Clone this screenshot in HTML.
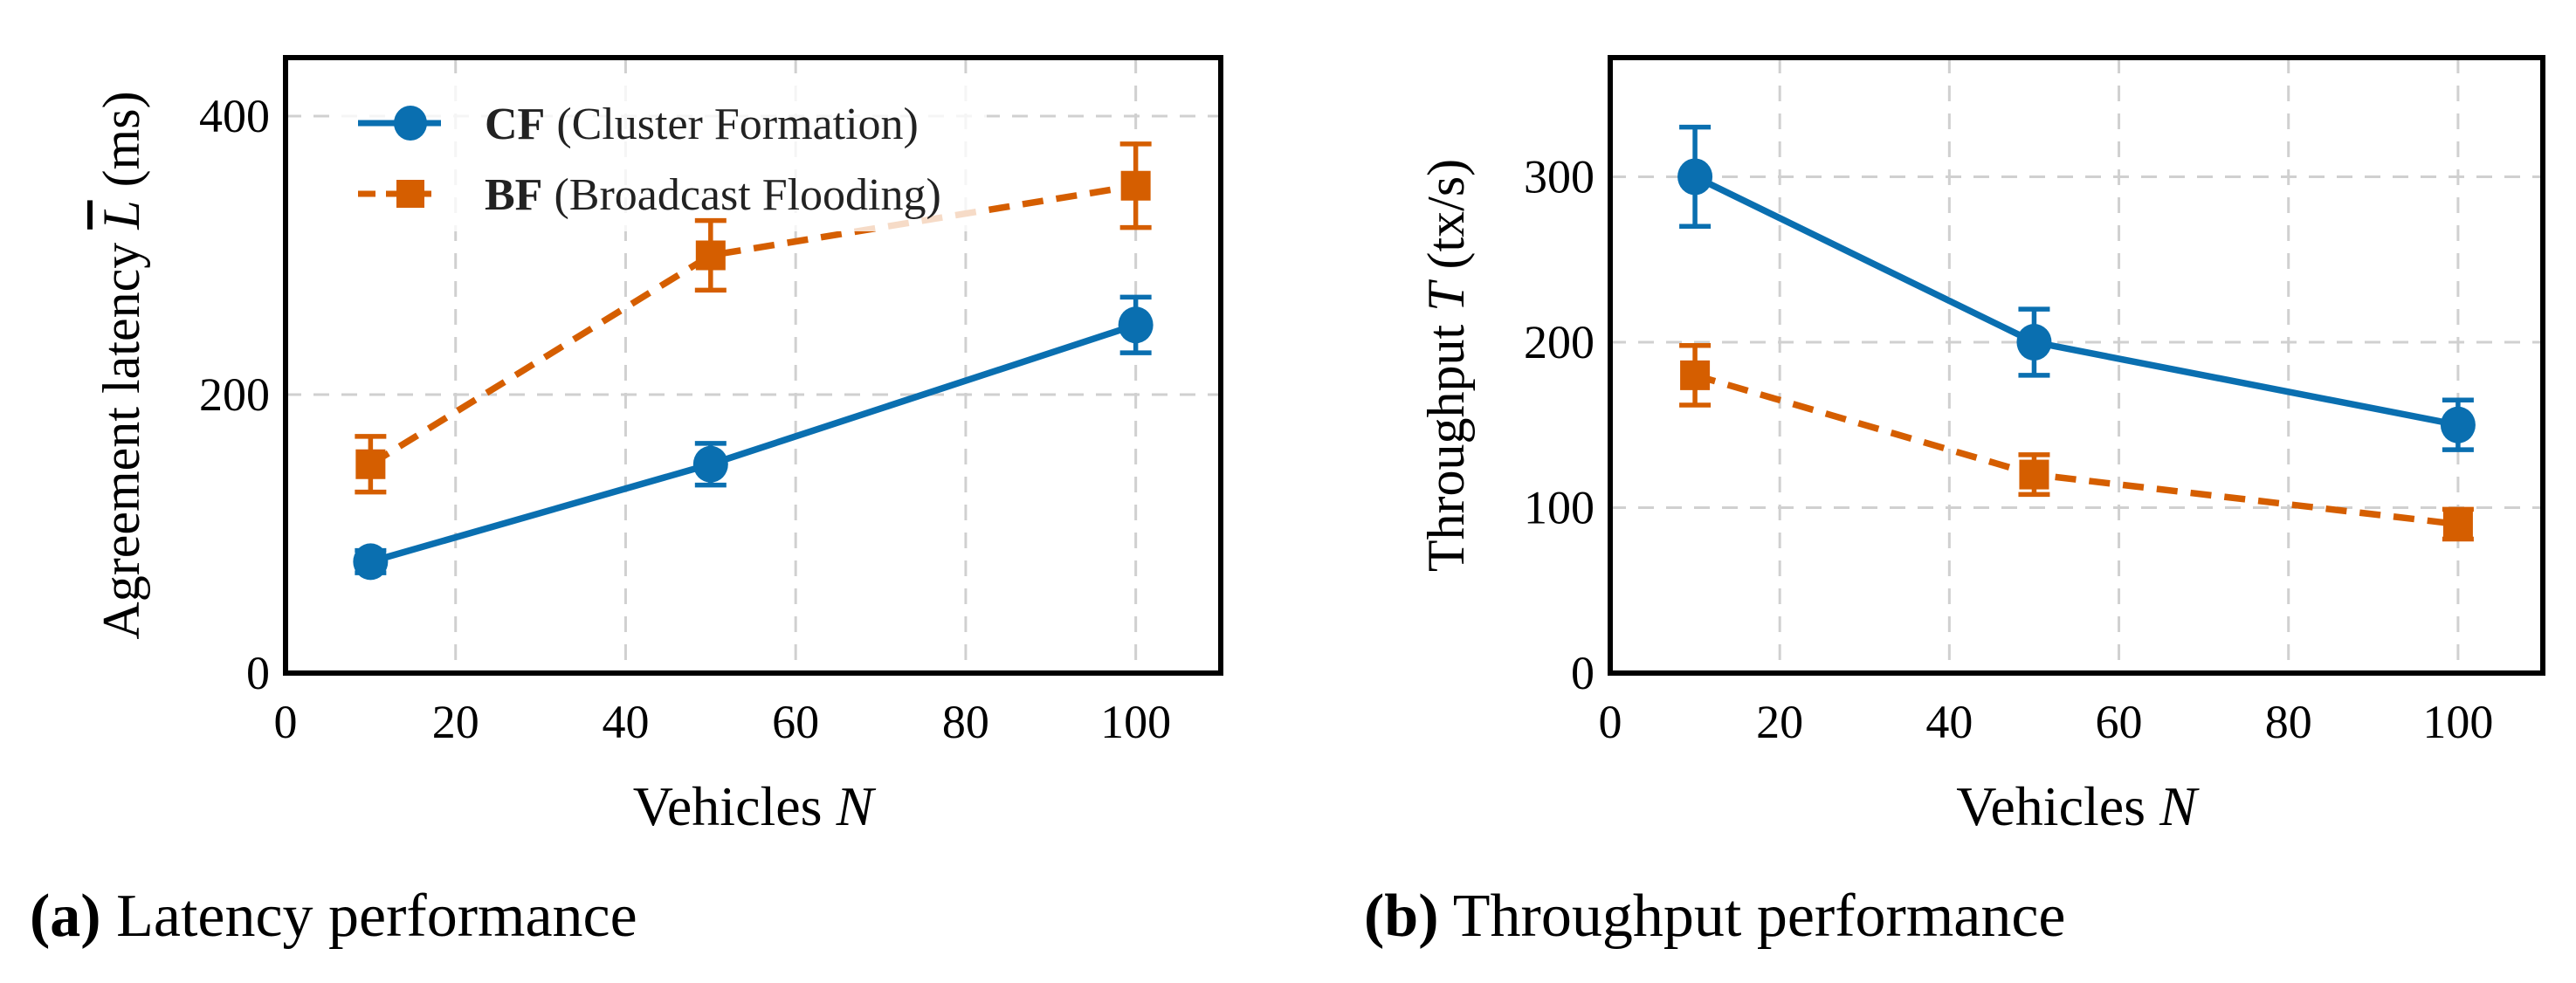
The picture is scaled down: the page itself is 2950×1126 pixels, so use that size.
<!DOCTYPE html>
<html><head><meta charset="utf-8"><style>
html,body{margin:0;padding:0;background:#fff;}
svg{display:block;font-family:"Liberation Serif",serif;}
</style></head><body>
<svg id="fig" width="2950" height="1126" viewBox="0 0 2950 1126" xmlns="http://www.w3.org/2000/svg"></svg>
<script>
const xCats = [10, 50, 100];
const xTicks = [0, 20, 40, 60, 80, 100];
const latCF = [80, 150, 250];
const latCFErr = [8, 15, 20];
const latBF = [150, 300, 350];
const latBFErr = [20, 25, 30];
const latTicks = [0, 200, 400];
const thrCF = [300, 200, 150];
const thrCFErr = [30, 20, 15];
const thrBF = [180, 120, 90];
const thrBFErr = [18, 12, 9];
const thrTicks = [0, 100, 200, 300];

const NS = "http://www.w3.org/2000/svg";
const svg = document.getElementById('fig');
const BLUE = "#0a6fb0", ORANGE = "#d55e00";
function mk(tag, attrs, parent, text){
  const e = document.createElementNS(NS, tag);
  for (const k in attrs) e.setAttribute(k, attrs[k]);
  if (text !== undefined) e.textContent = text;
  (parent || svg).appendChild(e);
  return e;
}
function panel(id, box, ymax, yTicks, cf, cfErr, bf, bfErr, ytitle, legend){
  const g = mk('g', {});
  
  
  const X = v => box.x0 + (v / 110) * (box.x1 - box.x0);
  const Y = v => box.y1 - (v / ymax) * (box.y1 - box.y0);
  xTicks.forEach(t => {
    if (t > 0) {
      const l = mk('line', {x1: X(t), x2: X(t), y1: box.y0, y2: box.y1, stroke: '#d0d0d0', 'stroke-width': 3, 'stroke-dasharray': '18 14'}, g);
      
      
    }
    const tx = mk('text', {x: X(t), y: box.y1 + 74, 'text-anchor': 'middle', 'font-size': 54}, g, String(t));
    
    
  });
  yTicks.forEach(t => {
    if (t > 0) {
      const l = mk('line', {x1: box.x0, x2: box.x1, y1: Y(t), y2: Y(t), stroke: '#d0d0d0', 'stroke-width': 3, 'stroke-dasharray': '18 14'}, g);
      
      
    }
    const tx = mk('text', {x: box.x0 - 18, y: Y(t) + 18, 'text-anchor': 'end', 'font-size': 54}, g, String(t));
    
    
  });
  const bfLine = mk('polyline', {points: xCats.map((c, i) => X(c) + ',' + Y(bf[i])).join(' '), fill: 'none', stroke: ORANGE, 'stroke-width': 7.5, 'stroke-dasharray': '24 15'}, g);
  
  
  const cfLine = mk('polyline', {points: xCats.map((c, i) => X(c) + ',' + Y(cf[i])).join(' '), fill: 'none', stroke: BLUE, 'stroke-width': 7.5}, g);
  
  
  if (legend) {
    const lr = mk('rect', {x: 380, y: 95, width: 750, height: 170, fill: '#fff', 'fill-opacity': 0.78}, g);
    
    
  }
  function errs(vals, ev, color, name){
    xCats.forEach((c, i) => {
      const x = X(c), a = Y(vals[i] + ev[i]), b = Y(vals[i] - ev[i]);
      const eg = mk('g', {stroke: color, 'stroke-width': 5.5}, g);
      
      
      mk('line', {x1: x, x2: x, y1: a, y2: b}, eg);
      mk('line', {x1: x - 18, x2: x + 18, y1: a, y2: a}, eg);
      mk('line', {x1: x - 18, x2: x + 18, y1: b, y2: b}, eg);
    });
  }
  errs(bf, bfErr, ORANGE, 'bf');
  errs(cf, cfErr, BLUE, 'cf');
  xCats.forEach((c, i) => {
    const r = mk('rect', {x: X(c) - 17, y: Y(bf[i]) - 17, width: 34, height: 34, fill: ORANGE}, g);
    
    
    const ci = mk('ellipse', {cx: X(c), cy: Y(cf[i]), rx: 20, ry: 21, fill: BLUE}, g);
    
    
  });
  const fr = mk('rect', {x: box.x0, y: box.y0, width: box.x1 - box.x0, height: box.y1 - box.y0, fill: 'none', stroke: '#000', 'stroke-width': 6}, g);
  
  
  const xt = mk('text', {x: (box.x0 + box.x1) / 2, y: box.y1 + 174, 'text-anchor': 'middle', 'font-size': 64}, g);
  
  
  xt.innerHTML = 'Vehicles <tspan font-style="italic">N</tspan>';
  const yc = (box.y0 + box.y1) / 2;
  const tx0 = box.x0 - 168;
  const yt = mk('text', {x: tx0, y: yc, 'text-anchor': 'middle', 'font-size': 60, transform: 'rotate(-90 ' + tx0 + ' ' + yc + ')'}, g);
  
  
  yt.innerHTML = ytitle;
  if (legend) {
    const lg = mk('g', {}, g);
    
    
    mk('line', {x1: 410, x2: 505, y1: 141, y2: 141, stroke: BLUE, 'stroke-width': 7}, lg);
    mk('ellipse', {cx: 470, cy: 141, rx: 19, ry: 20, fill: BLUE}, lg);
    const t1 = mk('text', {x: 555, y: 159, 'font-size': 52, fill: '#222'}, lg);
    t1.innerHTML = '<tspan font-weight="bold">CF</tspan> (Cluster Formation)';
    
    
    mk('line', {x1: 410, x2: 505, y1: 222, y2: 222, stroke: ORANGE, 'stroke-width': 7, 'stroke-dasharray': '20 12'}, lg);
    mk('rect', {x: 454, y: 206, width: 32, height: 32, fill: ORANGE}, lg);
    const t2 = mk('text', {x: 555, y: 240, 'font-size': 52, fill: '#222'}, lg);
    t2.innerHTML = '<tspan font-weight="bold">BF</tspan> (Broadcast Flooding)';
    
    
  }
}
panel('latency', {x0: 327, x1: 1398, y0: 66, y1: 771}, 442, latTicks, latCF, latCFErr, latBF, latBFErr,
  'Agreement latency <tspan font-style="italic" text-decoration="overline">L</tspan> (ms)', true);
panel('throughput', {x0: 1844, x1: 2912, y0: 66, y1: 771}, 372, thrTicks, thrCF, thrCFErr, thrBF, thrBFErr,
  'Throughput <tspan font-style="italic">T</tspan> (tx/s)', false);
const c1 = mk('text', {x: 34, y: 1072, 'font-size': 70});
c1.innerHTML = '<tspan font-weight="bold">(a)</tspan> Latency performance';


const c2 = mk('text', {x: 1562, y: 1072, 'font-size': 70});
c2.innerHTML = '<tspan font-weight="bold">(b)</tspan> Throughput performance';


</script>
</body></html>
